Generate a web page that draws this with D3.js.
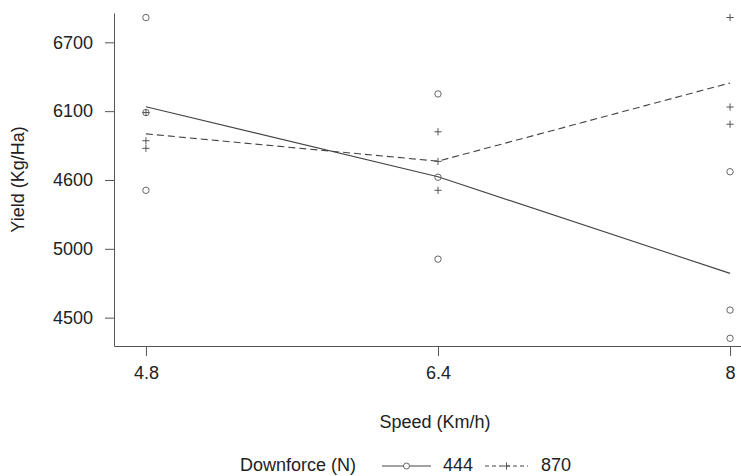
<!DOCTYPE html>
<html>
<head>
<meta charset="utf-8">
<script src="https://cdn.jsdelivr.net/npm/d3@7"></script>
<style>
  body { margin: 0; background: #fff; }
  svg { display: block; font-family: "Liberation Sans", Arial, sans-serif; }
</style>
</head>
<body>
<div id="grafico"></div>
<script>
const speeds = [4.8, 6.4, 8];

// replicates per speed
const yield444 = [[6680, 5990, 5425], [6125, 5520, 4925], [5560, 4555, 4350]];
const yield870 = [[5990, 5785, 5730], [5850, 5635, 5425], [6680, 6030, 5905]];

const yTickValues = [4500, 5000, 5500, 6000, 6500];
const yTickLabels = ["4500", "5000", "4600", "6100", "6700"];

const width  = 741;
const height = 476;
const plot = { left: 114, right: 741, top: 13, bottom: 346 };
const fontSize = "18px";

const svg = d3.select("#grafico")
              .append("svg")
              .attr("width", width)
              .attr("height", height);

const xScale = d3.scaleLinear()
                 .domain([4.625, 8.06])
                 .range([plot.left, plot.right]);

const yScale = d3.scaleLinear()
                 .domain([4294, 6713])
                 .range([plot.bottom, plot.top]);

const xAxis = d3.axisBottom(xScale)
                .tickValues(speeds)
                .tickFormat(d => d3.format("")(d))
                .tickSizeInner(10)
                .tickSizeOuter(0)
                .tickPadding(10);

const yAxis = d3.axisLeft(yScale)
                .tickValues(yTickValues)
                .tickFormat((d, i) => yTickLabels[i])
                .tickSizeInner(9)
                .tickSizeOuter(0)
                .tickPadding(12);

const gx = svg.append("g")
   .attr("transform", `translate(0, ${plot.bottom})`)
   .call(xAxis);

const gy = svg.append("g")
   .attr("transform", `translate(${plot.left}, 0)`)
   .call(yAxis);

[gx, gy].forEach(g => {
    g.selectAll("path, line").attr("stroke", "#555");
    g.selectAll("text").attr("font-size", fontSize).attr("fill", "#222")
     .attr("font-family", "'Liberation Sans', Arial, sans-serif");
});

svg.append("text")
   .attr("transform", "rotate(-90)")
   .attr("y", 24)
   .attr("x", -((plot.top + plot.bottom) / 2))
   .attr("font-size", fontSize)
   .attr("fill", "#222")
   .style("text-anchor", "middle")
   .text("Yield (Kg/Ha)");

svg.append("text")
   .attr("y", 428)
   .attr("x", 435)
   .attr("font-size", fontSize)
   .attr("fill", "#222")
   .style("text-anchor", "middle")
   .text("Speed (Km/h)");

const series = [
    { key: "444", values: yield444, dash: null, shape: "circle" },
    { key: "870", values: yield870, dash: "7,4", shape: "plus" }
];

const line = d3.line()
               .x(d => xScale(d.speed))
               .y(d => yScale(d.mean));

series.forEach(s => {
    const means = speeds.map((sp, i) => ({ speed: sp, mean: d3.mean(s.values[i]) }));
    svg.append("path")
       .datum(means)
       .attr("fill", "none")
       .attr("stroke", "#444")
       .attr("stroke-width", 1.1)
       .attr("stroke-dasharray", s.dash)
       .attr("d", line);

    const pts = speeds.flatMap((sp, i) => s.values[i].map(v => ({ speed: sp, v })));
    if (s.shape === "circle") {
        svg.append("g")
           .selectAll("circle")
           .data(pts)
           .join("circle")
           .attr("cx", d => xScale(d.speed))
           .attr("cy", d => yScale(d.v))
           .attr("r", 3.2)
           .attr("fill", "none")
           .attr("stroke", "#666")
           .attr("stroke-width", 1);
    } else {
        svg.append("g")
           .selectAll("path")
           .data(pts)
           .join("path")
           .attr("transform", d => `translate(${xScale(d.speed)}, ${yScale(d.v)})`)
           .attr("d", "M-3.6,0H3.6M0,-3.6V3.6")
           .attr("stroke", "#555")
           .attr("stroke-width", 1);
    }
});

// legend
const legend = svg.append("g");
const legY = 466;
const legText = 471;

legend.append("text")
   .attr("x", 240)
   .attr("y", legText)
   .attr("font-size", fontSize)
   .attr("fill", "#222")
   .text("Downforce (N)");

const legItems = [
    { key: "444", x1: 382, x2: 431, dash: null, shape: "circle", tx: 443 },
    { key: "870", x1: 485, x2: 528, dash: "4,3", shape: "plus", tx: 541 }
];

legItems.forEach(it => {
    legend.append("line")
       .attr("x1", it.x1).attr("x2", it.x2)
       .attr("y1", legY).attr("y2", legY)
       .attr("stroke", "#444")
       .attr("stroke-width", 1)
       .attr("stroke-dasharray", it.dash);
    const cx = (it.x1 + it.x2) / 2;
    if (it.shape === "circle") {
        legend.append("circle")
           .attr("cx", cx).attr("cy", legY).attr("r", 3)
           .attr("fill", "#fff").attr("stroke", "#666");
    } else {
        legend.append("path")
           .attr("transform", `translate(${cx}, ${legY})`)
           .attr("d", "M-3.6,0H3.6M0,-3.6V3.6")
           .attr("stroke", "#555");
    }
    legend.append("text")
       .attr("x", it.tx)
       .attr("y", legText)
       .attr("font-size", fontSize)
       .attr("fill", "#222")
       .text(it.key);
});
</script>
</body>
</html>
